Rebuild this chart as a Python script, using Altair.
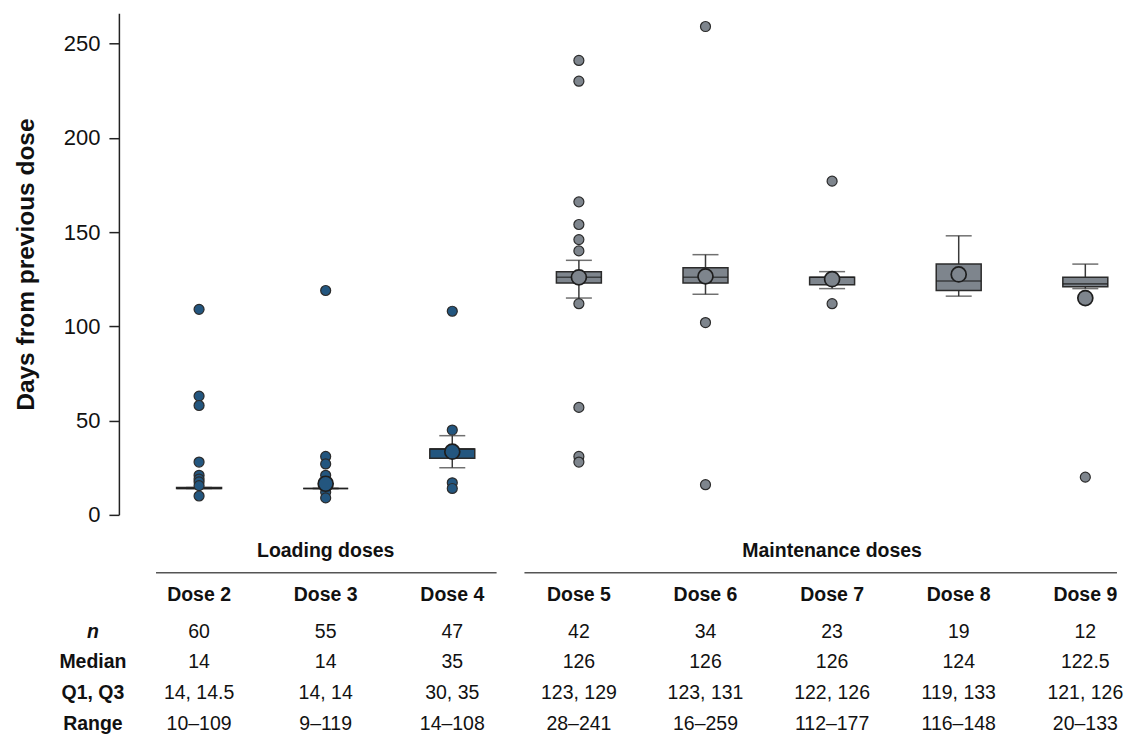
import altair as alt
import pandas as pd

FONT = "Liberation Sans"

# ---- data ----
doses = [2, 3, 4, 5, 6, 7, 8, 9]
dose_labels = ["Dose 2", "Dose 3", "Dose 4", "Dose 5", "Dose 6", "Dose 7", "Dose 8", "Dose 9"]
phase = ["Loading doses"] * 3 + ["Maintenance doses"] * 5
n_vals = [60, 55, 47, 42, 34, 23, 19, 12]
medians = [14, 14, 35, 126, 126, 126, 124, 122.5]
q1_vals = [14, 14, 30, 123, 123, 122, 119, 121]
q3_vals = [14.5, 14, 35, 129, 131, 126, 133, 126]
min_vals = [10, 9, 14, 28, 16, 112, 116, 20]
max_vals = [109, 119, 108, 241, 259, 177, 148, 133]
whisker_lo = [14, 14, 25, 115, 117, 120, 116, 120]
whisker_hi = [14.5, 14, 42, 135, 138, 129, 148, 133]
means = [None, 16.5, 33.5, 126, 126.5, 125, 127.5, 115]

outliers_d2 = [109, 63, 58, 28, 21, 19, 17.5, 15.5, 10]
outliers_d3 = [119, 31, 27, 21, 12, 9]
outliers_d4 = [108, 45, 17, 14]
outliers_d5 = [241, 230, 166, 154, 146, 140, 112, 57, 31, 28]
outliers_d6 = [259, 102, 16]
outliers_d7 = [177, 112]
outliers_d8 = []
outliers_d9 = [20]

groups = ["Loading doses", "Maintenance doses"]
group_doses = [[2, 3, 4], [5, 6, 7, 8, 9]]

row_names = ["n", "Median", "Q1, Q3", "Range"]

# ---- style constants ----
FILL_DOMAIN = groups
FILL_RANGE = ["#23567f", "#7e858d"]
LINE_PAD_L = [0.34, 0.43]
LINE_PAD_R = [0.35, 0.25]

# ---- tables built from the arrays ----
box_df = pd.DataFrame({
    "dose": doses, "phase": phase, "q1": q1_vals, "q3": q3_vals,
    "median": medians, "lo": whisker_lo, "hi": whisker_hi, "mean": means,
})
mean_df = box_df.dropna(subset=["mean"])

out_lists = [outliers_d2, outliers_d3, outliers_d4, outliers_d5,
             outliers_d6, outliers_d7, outliers_d8, outliers_d9]
out_rows = []
for d, ph, vals in zip(doses, phase, out_lists):
    for v in vals:
        out_rows.append({"dose": d, "phase": ph, "value": v})
out_df = pd.DataFrame(out_rows)

hdr_rows = [{"x": d, "row": "dose", "label": l} for d, l in zip(doses, dose_labels)]
for g, gd in zip(groups, group_doses):
    hdr_rows.append({"x": (gd[0] + gd[-1]) / 2, "row": "group", "label": g})
hdr_df = pd.DataFrame(hdr_rows)

rule_df = pd.DataFrame([
    {"x1": gd[0] - pl, "x2": gd[-1] + pr, "row": "line"}
    for gd, pl, pr in zip(group_doses, LINE_PAD_L, LINE_PAD_R)
])

body_rows = []
for i, d in enumerate(doses):
    body_rows.append({"x": d, "row": "n", "label": str(n_vals[i])})
    body_rows.append({"x": d, "row": "Median", "label": f"{medians[i]:g}"})
    body_rows.append({"x": d, "row": "Q1, Q3", "label": f"{q1_vals[i]:g}, {q3_vals[i]:g}"})
    body_rows.append({"x": d, "row": "Range", "label": f"{min_vals[i]}\u2013{max_vals[i]}"})
body_df = pd.DataFrame(body_rows)

lab_df = pd.DataFrame({"row": [r for r in row_names if r != "n"]})
n_df = pd.DataFrame({"row": ["n"]})

# ---- scales ----
xscale = alt.Scale(domain=[1.40625, 9.21875], nice=False, zero=False)
yscale = alt.Scale(domain=[0, 266], nice=False, zero=True)
hdr_scale = alt.Scale(type="point", domain=["group", "line", "dose"], range=[538, 582], padding=0)
body_scale = alt.Scale(type="point", domain=row_names, range=[619, 711], padding=0)
fill_enc = alt.Fill("phase:N", scale=alt.Scale(domain=FILL_DOMAIN, range=FILL_RANGE), legend=None)

X = alt.X("dose:Q", scale=xscale, axis=None)

yaxis = alt.Axis(
    values=[0, 50, 100, 150, 200, 250], title="Days from previous dose",
    titleFont=FONT, titleFontSize=24.5, titleFontWeight="bold", titleColor="#111",
    titlePadding=24.5, labelFont=FONT, labelFontSize=22, labelColor="#111",
    labelPadding=9, tickSize=10, tickWidth=1.5, tickColor="#222",
    domainColor="#222", domainWidth=1.5, grid=False,
)

def yq(field, axis=None):
    return alt.Y(field, type="quantitative", scale=yscale, axis=axis)

whisk = alt.Chart(box_df).mark_rule(color="#3a3a3a", strokeWidth=1.5).encode(
    x=X, y=yq("lo", yaxis), y2="hi:Q")
cap_lo = alt.Chart(box_df).mark_tick(orient="horizontal", size=26, thickness=1.5, color="#333").encode(
    x=X, y=yq("lo"))
cap_hi = alt.Chart(box_df).mark_tick(orient="horizontal", size=26, thickness=1.5, color="#333").encode(
    x=X, y=yq("hi"))
box = alt.Chart(box_df).mark_bar(size=45, stroke="#2b2b2b", strokeWidth=1.5, opacity=1).encode(
    x=X, y=yq("q1"), y2="q3:Q", fill=fill_enc)
med = alt.Chart(box_df).mark_tick(orient="horizontal", size=45, thickness=1.6, color="#1e1e1e").encode(
    x=X, y=yq("median"))
pts = alt.Chart(out_df).mark_circle(size=100, stroke="#2b2b2b", strokeWidth=1.2, opacity=1).encode(
    x=X, y=yq("value"), fill=fill_enc)
mean_pts = alt.Chart(mean_df).mark_circle(size=225, stroke="#1e1e1e", strokeWidth=1.7, opacity=1).encode(
    x=X, y=yq("mean"), fill=fill_enc)

hdr_text = alt.Chart(hdr_df).mark_text(font=FONT, fontSize=19.5, fontWeight="bold", color="#111",
                                       baseline="middle", align="center").encode(
    x=alt.X("x:Q", scale=xscale, axis=None),
    y=alt.Y("row:N", scale=hdr_scale, axis=None), text="label:N")
hdr_rule = alt.Chart(rule_df).mark_rule(color="#555", strokeWidth=1.5).encode(
    x=alt.X("x1:Q", scale=xscale, axis=None), x2="x2:Q",
    y=alt.Y("row:N", scale=hdr_scale, axis=None))
body_text = alt.Chart(body_df).mark_text(font=FONT, fontSize=19.5, color="#111",
                                         baseline="middle", align="center").encode(
    x=alt.X("x:Q", scale=xscale, axis=None),
    y=alt.Y("row:N", scale=body_scale, axis=None), text="label:N")
row_lab = alt.Chart(lab_df).mark_text(font=FONT, fontSize=19.5, fontWeight="bold", color="#111",
                                      baseline="middle", align="center").encode(
    x=alt.value(-26), y=alt.Y("row:N", scale=body_scale, axis=None), text="row:N")
n_lab = alt.Chart(n_df).mark_text(font=FONT, fontSize=19.5, fontWeight="bold", fontStyle="italic",
                                  color="#111", baseline="middle", align="center").encode(
    x=alt.value(-26), y=alt.Y("row:N", scale=body_scale, axis=None), text="row:N")

chart = alt.layer(
    whisk, cap_lo, cap_hi, box, med, pts, mean_pts,
    hdr_text, hdr_rule, body_text, row_lab, n_lab,
).resolve_scale(y="independent").properties(
    width=1000, height=502,
    padding={"left": 5, "top": 5, "right": 0, "bottom": 0},
    background="white",
).configure_view(stroke=None)

chart.save("out.html", embed_options={"renderer": "svg", "actions": False})
